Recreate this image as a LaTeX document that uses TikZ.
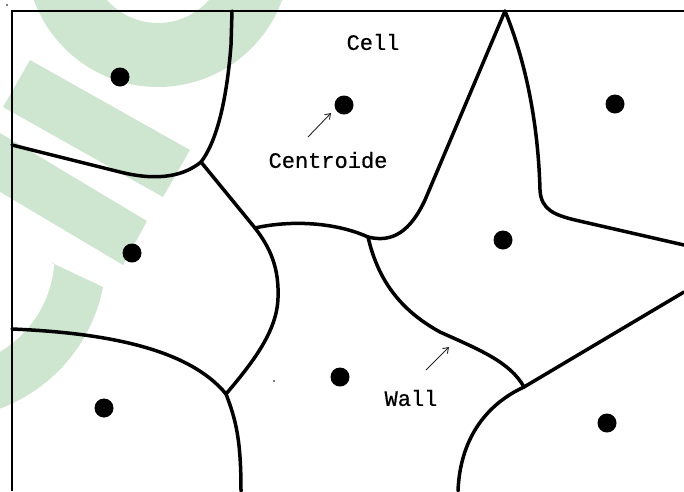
\documentclass[tikz,border=0pt]{standalone}
\usepackage{fontspec}
\newfontfamily\lblfont{Liberation Mono}[FakeBold=0.5]
\usetikzlibrary{arrows.meta}
\definecolor{wallclr}{RGB}{0,0,0}
\definecolor{wmclr}{RGB}{206,230,208}
\tikzset{
    wall/.style={draw=wallclr,line width=3.5pt,line cap=round,line join=round},
    frame/.style={draw=black,line width=1.3pt},
    centroid/.style={circle,fill=black,minimum size=19pt,inner sep=0pt},
    speck/.style={circle,fill=black,minimum size=1.6pt,inner sep=0pt},
    lbl/.style={font=\lblfont\fontsize{22}{26}\selectfont,inner sep=1pt},
    pointer/.style={-{Straight Barb[length=5pt,width=7pt]},line width=0.9pt,draw=black!85},
    wmark/.style={fill=wmclr},
}

\begin{document}
\begin{tikzpicture}[x=1pt,y=-1pt]
\useasboundingbox (0,0) rectangle (684,491);
% watermark
\begin{scope}
\clip (0,0) rectangle (684,491);
\fill[wmark,even odd rule] (158,-45) circle[radius=132] (158,-45) circle[radius=68];
\fill[wmark] (30,60) -- (190,150) -- (163,197) -- (3,107) -- cycle;
\fill[wmark] (-20,121) -- (147,221) -- (123,265) -- (-20,180) -- cycle;
\fill[wmark] (50,262) -- (103,287) arc[start angle=11,end angle=80,radius=163]
    -- (-38,366) arc[start angle=80,end angle=4,radius=112] -- cycle;
\end{scope}

% frame
\draw[frame] (12,491) -- (12,11) -- (684,11);

% junctions and ends
\coordinate (j1) at (201,162);
\coordinate (j2) at (255,228);
\coordinate (j3) at (226,394);
\coordinate (j4) at (368,237);
\coordinate (j5) at (524,387);
\coordinate (t1) at (232,11);
\coordinate (pk) at (505,11);
\coordinate (l1) at (12,145);
\coordinate (l2) at (12,329);
\coordinate (r1) at (684,245);
\coordinate (r2) at (684,292);
\coordinate (b1) at (241,491);
\coordinate (b2) at (458,491);

% walls
\draw[wall] (t1) -- (231,45) .. controls (226,110) and (214,145) .. (j1);
\draw[wall] (l1) -- (120,172) .. controls (160,182) and (185,175) .. (j1);
\draw[wall] (j1) -- (j2);
\draw[wall] (j2) .. controls (272,250) and (279,270) .. (278,298)
    .. controls (277,330) and (255,360) .. (j3);
\draw[wall] (j2) .. controls (290,220) and (335,222) .. (j4);
\draw[wall] (j4) .. controls (392,243) and (410,232) .. (425,200) -- (pk);
\draw[wall] (pk) .. controls (525,60) and (538,120) .. (540,190)
    .. controls (541,210) and (555,215) .. (575,220) -- (r1);
\draw[wall] (j4) .. controls (378,280) and (400,310) .. (440,332)
    .. controls (480,350) and (510,362) .. (j5);
\draw[wall] (j5) -- (r2);
\draw[wall] (j5) .. controls (485,405) and (460,440) .. (b2);
\draw[wall] (l2) .. controls (110,333) and (190,350) .. (j3);
\draw[wall] (j3) .. controls (236,420) and (241,440) .. (b1);

% centroids
\node[centroid] (c1) at (120,77) {};
\node[centroid] (c2) at (344,105) {};
\node[centroid] (c3) at (615,104) {};
\node[centroid] (c4) at (132,253) {};
\node[centroid] (c5) at (503,240) {};
\node[centroid] (c6) at (340,377) {};
\node[centroid] (c7) at (104,408) {};
\node[centroid] (c8) at (607,423) {};
\node[speck] (s1) at (7,5) {};
\node[speck] (s2) at (274,381) {};

% labels
\node[lbl] (cell) at (373,42) {Cell};
\node[lbl] (centroide) at (328,160) {Centroide};
\node[lbl] (walllbl) at (411,398) {Wall};

\coordinate (pA) at (308,137);
\coordinate (pB) at (331,113);
\coordinate (wA) at (426,370);
\coordinate (wB) at (449,347);
\draw[pointer] (pA) -- (pB);
\draw[pointer] (wA) -- (wB);
\end{tikzpicture}
\end{document}
